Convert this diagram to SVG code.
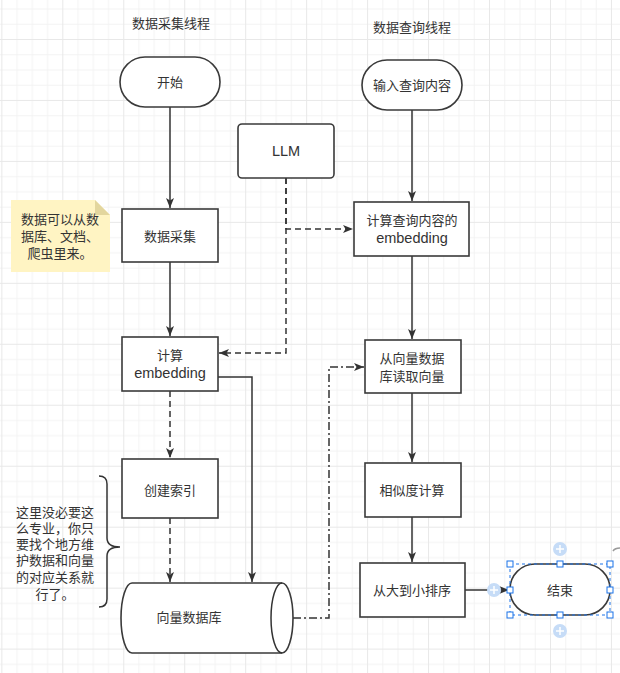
<svg xmlns="http://www.w3.org/2000/svg" width="620" height="673" viewBox="0 0 620 673">
<defs>
<pattern id="grid" patternUnits="userSpaceOnUse" x="1.34" y="-21.96" width="60.96" height="60.96">
<path d="M15.74 0V60.96M30.98 0V60.96M46.22 0V60.96M0 15.74H60.96M0 30.98H60.96M0 46.22H60.96" stroke="#f3f3f3" stroke-width="1" fill="none"/>
<path d="M0.5 0V60.96M0 0.5H60.96" stroke="#e8e8e8" stroke-width="1" fill="none"/>
</pattern>
<marker id="arr" viewBox="0 0 10 10" refX="10" refY="5" markerWidth="10" markerHeight="10" markerUnits="userSpaceOnUse" orient="auto">
<path d="M0 1L10 5L0 9L2.5 5Z" fill="#333"/>
</marker>
</defs>
<style>
.box{fill:#fff;stroke:#3a3a3a;stroke-width:1.6}
.t{font-family:"Liberation Sans","Noto Sans CJK SC",sans-serif;font-size:13px;fill:#333;text-anchor:middle;dominant-baseline:central}
.en{font-size:14.5px}
.e{fill:none;stroke:#333;stroke-width:1.5}
.dash{stroke-dasharray:6 4}
.dd{stroke-dasharray:8 3 2 3}
.h{fill:#fff;stroke:#1a73e8;stroke-width:1}
.pc{fill:#c6dcf7}
</style>
<rect width="620" height="673" fill="#fff"/>
<rect width="620" height="673" fill="url(#grid)"/>

<text class="t" x="171" y="23">数据采集线程</text>
<text class="t" x="412" y="27">数据查询线程</text>

<g id="connectors">
<path class="e" d="M170 107V208" marker-end="url(#arr)"/>
<path class="e" d="M170 262V336" marker-end="url(#arr)"/>
<path class="e dash" d="M170 391V458" marker-end="url(#arr)"/>
<path class="e dash" d="M170 518V582" marker-end="url(#arr)"/>
<path class="e" d="M218 377H252V582" marker-end="url(#arr)"/>
<path class="e dash" d="M286 178V353H219" marker-end="url(#arr)"/>
<path class="e dash" d="M286 178V229H353" marker-end="url(#arr)"/>
<path class="e" d="M412 110V201" marker-end="url(#arr)"/>
<path class="e" d="M412 256V339" marker-end="url(#arr)"/>
<path class="e" d="M412 393V462" marker-end="url(#arr)"/>
<path class="e" d="M412 517V562" marker-end="url(#arr)"/>
<path class="e" d="M465 590H509" marker-end="url(#arr)"/>
<path class="e dd" d="M293 618H329V367H364" marker-end="url(#arr)"/>
</g>

<g id="note1">
<path d="M11 200H95L110 215V272H11Z" fill="#fff4c3"/>
<path d="M95 200L110 215H95Z" fill="#e3d69e"/>
<text class="t" x="60" y="219">数据可以从数</text>
<text class="t" x="60" y="236">据库、文档、</text>
<text class="t" x="60" y="253">爬虫里来。</text>
</g>

<g id="comment1">
<path class="e" d="M99 476Q107 476 107 484V538Q107 547 120 547Q107 547 107 556V599Q107 607 99 607"/>
<text class="t" x="55" y="512">这里没必要这</text>
<text class="t" x="55" y="528">么专业，你只</text>
<text class="t" x="55" y="544">要找个地方维</text>
<text class="t" x="55" y="560">护数据和向量</text>
<text class="t" x="55" y="577">的对应关系就</text>
<text class="t" x="55" y="594">行了。</text>
</g>

<g id="start"><rect class="box" x="120" y="57" width="100" height="50" rx="25"/><text class="t" x="170" y="82">开始</text></g>
<g id="input"><rect class="box" x="362" y="60" width="100" height="50" rx="25"/><text class="t" x="412" y="85">输入查询内容</text></g>
<g id="llm"><rect class="box" x="238" y="124" width="96" height="54" rx="4"/><text class="t en" x="286" y="151">LLM</text></g>
<g id="collect"><rect class="box" x="122" y="209" width="96" height="53"/><text class="t" x="170" y="236">数据采集</text></g>
<g id="queryemb"><rect class="box" x="354" y="202" width="115" height="54"/><text class="t" x="412" y="220">计算查询内容的</text><text class="t en" x="412" y="238">embedding</text></g>
<g id="emb"><rect class="box" x="122" y="337" width="96" height="54"/><text class="t" x="170" y="355">计算</text><text class="t en" x="170" y="373">embedding</text></g>
<g id="read"><rect class="box" x="365" y="340" width="96" height="53"/><text class="t" x="412" y="358">从向量数据</text><text class="t" x="412" y="376">库读取向量</text></g>
<g id="index"><rect class="box" x="122" y="459" width="96" height="59"/><text class="t" x="170" y="490">创建索引</text></g>
<g id="sim"><rect class="box" x="365" y="463" width="96" height="54"/><text class="t" x="412" y="490">相似度计算</text></g>
<g id="sort"><rect class="box" x="360" y="563" width="105" height="54"/><text class="t" x="412" y="590">从大到小排序</text></g>
<g id="vecdb">
<path class="box" d="M132 583H282A11 35 0 0 1 282 653H132A11 35 0 0 1 132 583Z"/>
<path class="e" d="M282 583A11 35 0 0 0 282 653"/>
<text class="t" x="189" y="617">向量数据库</text>
</g>
<g id="end">
<rect class="box" x="510" y="564" width="100" height="51" rx="25"/>
<text class="t" x="560" y="590">结束</text>
<rect x="510" y="564" width="100" height="51" fill="none" stroke="#1a73e8" stroke-width="1" stroke-dasharray="3 3"/>
<rect class="h" x="507" y="561" width="6" height="6"/><rect class="h" x="557" y="561" width="6" height="6"/><rect class="h" x="607" y="561" width="6" height="6"/>
<rect class="h" x="507" y="587" width="6" height="6"/><rect class="h" x="607" y="587" width="6" height="6"/>
<rect class="h" x="507" y="612" width="6" height="6"/><rect class="h" x="557" y="612" width="6" height="6"/><rect class="h" x="607" y="612" width="6" height="6"/>
<circle class="pc" cx="560" cy="549" r="7"/><path d="M556 549H564M560 545V553" stroke="#fff" stroke-width="1.5"/>
<circle class="pc" cx="560" cy="631" r="7"/><path d="M556 631H564M560 627V635" stroke="#fff" stroke-width="1.5"/>
<circle class="pc" cx="494" cy="590" r="7"/><path d="M490 590H498M494 586V594" stroke="#fff" stroke-width="1.5"/>
<path d="M613 551Q615 548 620 548" fill="none" stroke="#999" stroke-width="1.5"/>
</g>
</svg>
